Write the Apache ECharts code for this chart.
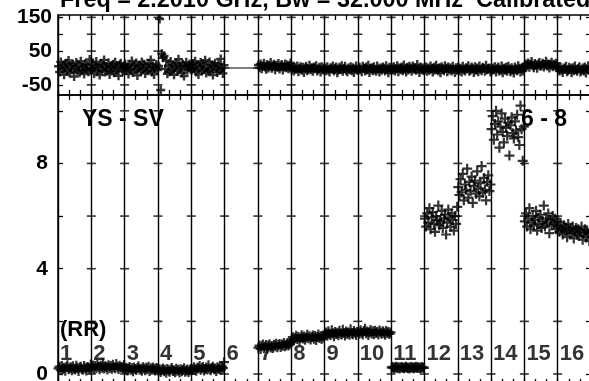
<!DOCTYPE html>
<html><head><meta charset="utf-8">
<script src="https://cdn.jsdelivr.net/npm/echarts@6/dist/echarts.min.js"></script>
<style>html,body{margin:0;padding:0;overflow:hidden;background:#fff}#c{width:592px;height:386px}</style>
</head><body><div id="c"></div>
<script>
// ---- tick / label values ----
const segmentLabels = ['1','2','3','4','5','6','7','8','9','10','11','12','13','14','15','16'];
const phaseTicks = [150, 100, 50, 0, -50];
const phaseLabels = [150, 50, -50];
const ampTicks = [10, 8, 6, 4, 2, 0];
const ampLabels = [8, 4, 0];

// ---- phase (degrees) per segment ----
const ph01 = [5,-12,18,-3,9,-20,2,14,-8,22,-15,6,-4,11,-25,0,16,-9,7,-14,20,-6,3,-18,12,-2,8,-11,25,-7];
const ph02 = [-4,10,-16,6,19,-9,1,-21,13,-5,8,24,-12,3,-7,15,-19,5,-1,11,-14,17,-8,2,-23,9,14,-3,-10,6];
const ph03 = [12,-7,3,-18,9,-2,21,-13,6,-5,15,-22,0,8,-10,18,-4,11,-16,4,-8,13,-1,24,-12,7,-19,2,10,-6];
const ph04 = [6,145,-65,42,30,36,-3,22,-17,6,-11,19,-5,9,-20,3,14,-9,26,-2,7,-15,11,-24,5,17,-7,1,12,-4];
const ph05 = [-6,13,-1,20,-12,7,-19,4,16,-8,10,-3,23,-15,2,-10,18,-5,9,-21,6,14,-2,-13,11,-7,27,0,-16,8];
const ph07 = [9,1,12,-2,6,14,3,-4,10,0,7,16,-1,5,11,-5,8,2,13,-3,6,10,-6,4,12,1,9,-2,7,15];
const ph08 = [-6,3,-9,1,-4,6,-11,-1,4,-7,2,-13,0,5,-8,-3,8,-5,1,-10,3,-2,7,-9,-4,2,-12,4,-6,0];
const ph09 = [0,-8,4,-5,-12,1,-3,6,-9,-1,3,-14,-6,2,-4,7,-10,-2,5,-7,-11,0,-5,4,-8,1,-13,-3,6,-6];
const ph10 = [-7,2,-4,-11,5,-1,-9,3,-6,8,-13,-2,1,-8,4,-5,-10,6,-3,-12,0,-7,3,-1,-9,7,-4,-14,2,-6];
const ph11 = [1,-6,4,-9,-2,7,-11,0,-5,3,-8,9,-3,-12,2,-6,5,-1,-10,6,-4,1,-7,10,-2,-13,3,-5,0,-8];
const ph12 = [-5,3,-10,0,-7,6,-2,-12,2,-6,8,-4,-9,1,-14,4,-3,-8,7,-1,-11,3,-6,0,-9,5,-4,-13,1,-7];
const ph13 = [2,-8,-1,-12,5,-5,-9,1,-3,7,-10,-6,3,-2,-13,4,-7,0,-11,6,-4,-8,2,-1,-10,8,-5,-3,0,-12];
const ph14 = [-8,0,-5,4,-12,-2,3,-9,-6,6,-14,-1,-7,2,-10,5,-3,-11,1,-6,-15,3,-4,-8,7,-2,-12,0,-9,4];
const ph15 = [4,12,6,15,2,10,19,7,1,13,9,-1,11,16,5,8,14,3,10,20,6,12,0,9,17,4,11,7,14,2];
const ph16 = [-1,-9,3,-6,-13,0,-4,5,-11,-7,2,-3,-14,1,-8,6,-5,-10,-2,4,-12,-6,0,-9,3,-15,-4,7,-7,-1];

// ---- amplitude per segment ----
const amp01 = [0.21,0.28,0.15,0.3,0.19,0.24,0.12,0.27,0.33,0.18,0.22,0.26,0.14,0.29,0.2,0.17,0.31,0.23,0.11,0.25,0.28,0.19,0.16,0.3,0.22,0.13,0.27,0.24,0.18,0.36];
const amp02 = [0.25,0.32,0.19,0.3,0.22,0.36,0.27,0.18,0.31,0.24,0.4,0.21,0.29,0.26,0.17,0.33,0.23,0.3,0.2,0.35,0.26,0.22,0.38,0.28,0.19,0.31,0.24,0.27,0.21,0.34];
const amp03 = [0.18,0.24,0.13,0.21,0.27,0.16,0.22,0.1,0.25,0.19,0.15,0.23,0.29,0.17,0.2,0.12,0.26,0.21,0.14,0.24,0.18,0.28,0.11,0.22,0.16,0.25,0.19,0.13,0.23,0.2];
const amp04 = [0.12,0.18,0.08,0.15,0.21,0.1,0.16,0.05,0.19,0.13,0.09,0.17,0.23,0.11,0.14,0.07,0.2,0.12,0.16,0.06,0.18,0.1,0.15,0.22,0.09,0.13,0.17,0.08,0.14,0.19];
const amp05 = [0.2,0.15,0.26,0.18,0.12,0.24,0.21,0.3,0.16,0.22,0.27,0.13,0.19,0.25,0.17,0.33,0.2,0.14,0.23,0.28,0.18,0.21,0.11,0.26,0.19,0.24,0.15,0.29,0.22,0.45];
const amp07 = [1.0,1.08,0.95,1.05,1.12,0.98,1.04,1.1,0.97,1.07,1.13,1.01,1.06,0.99,1.11,1.05,1.15,1.02,1.09,1.14,1.03,1.12,1.07,1.18,1.05,1.1,1.16,1.08,1.13,1.2];
const amp08 = [1.32,1.4,1.28,1.37,1.45,1.33,1.41,1.26,1.38,1.47,1.35,1.42,1.3,1.39,1.49,1.36,1.43,1.31,1.4,1.46,1.34,1.44,1.29,1.41,1.5,1.37,1.43,1.33,1.45,1.39];
const amp09 = [1.5,1.58,1.45,1.62,1.53,1.48,1.66,1.55,1.43,1.6,1.52,1.57,1.47,1.64,1.54,1.5,1.68,1.56,1.46,1.61,1.53,1.58,1.49,1.7,1.55,1.51,1.63,1.57,1.48,1.6];
const amp10 = [1.6,1.53,1.66,1.57,1.5,1.63,1.72,1.55,1.61,1.48,1.59,1.67,1.54,1.62,1.51,1.64,1.56,1.6,1.5,1.65,1.58,1.53,1.62,1.57,1.49,1.63,1.55,1.6,1.52,1.58];
const amp11 = [0.24,0.27,0.22,0.25,0.28,0.23,0.26,0.21,0.25,0.27,0.24,0.22,0.26,0.28,0.23,0.25,0.21,0.27,0.24,0.26,0.22,0.25,0.28,0.23,0.26,0.24,0.21,0.27,0.25,0.23];
const amp12 = [5.9,5.6,6.1,5.75,6.3,5.5,5.95,6.15,5.7,5.4,6.0,5.85,6.4,5.65,5.8,6.2,5.55,5.9,6.05,5.3,5.75,6.25,5.95,5.6,6.1,5.85,5.45,6.0,5.7,6.35];
const amp13 = [7.1,6.8,7.4,6.9,7.6,6.6,7.2,7.0,7.8,6.7,7.3,6.95,7.5,6.5,7.15,7.35,6.85,7.7,7.05,6.75,7.25,7.9,6.9,7.45,7.0,6.6,7.3,7.55,6.95,7.2];
const amp14 = [9.3,9.8,8.9,9.5,10.0,9.1,9.6,8.6,9.4,9.9,9.2,8.8,9.7,9.35,9.05,9.55,8.3,9.45,9.75,9.15,8.95,9.6,9.25,9.85,9.0,8.7,10.2,9.3,8.1,9.4];
const amp15 = [5.8,6.1,5.6,5.9,6.3,5.5,5.75,6.0,5.65,5.85,6.2,5.45,5.95,5.7,6.05,5.55,5.8,6.4,5.6,5.9,5.75,6.1,5.35,5.85,5.65,6.0,5.7,5.9,5.5,5.8];
const amp16 = [5.6,5.4,5.75,5.5,5.3,5.65,5.45,5.55,5.2,5.7,5.4,5.5,5.35,5.6,5.15,5.45,5.55,5.3,5.5,5.25,5.4,5.6,5.1,5.35,5.5,5.2,5.45,5.3,5.05,5.4];

// flagged stretch in segment 6 (phase trace only)
const flagTimes = [5.1, 5.9];
const flagPhase = [0, 0];

// ---- build ----
const segments = [
  [1, ph01, amp01], [2, ph02, amp02], [3, ph03, amp03], [4, ph04, amp04], [5, ph05, amp05],
  [7, ph07, amp07], [8, ph08, amp08], [9, ph09, amp09], [10, ph10, amp10], [11, ph11, amp11],
  [12, ph12, amp12], [13, ph13, amp13], [14, ph14, amp14], [15, ph15, amp15], [16, ph16, amp16]
];
const phasePts = [], ampPts = [];
segments.forEach(([s, ph, am]) => {
  ph.forEach((v, i) => phasePts.push([s - 1 + (i + 0.5) / ph.length, v]));
  am.forEach((v, i) => ampPts.push([s - 1 + (i + 0.5) / am.length, v]));
});
const nSeg = segmentLabels.length;
const crossTop = [], crossBot = [];
for (let b = 1; b < nSeg; b++) {
  phaseTicks.forEach(v => crossTop.push([b, v]));
  ampTicks.forEach(v => crossBot.push([b, v]));
}
const flagPts = flagTimes.map((t, i) => [t, flagPhase[i]]);
const segLabelPts = segmentLabels.map((t, i) => ({ value: [i, 0.76], name: t }));

const FONT = '"Liberation Sans", Arial, Helvetica, sans-serif';
const BLACK = '#000';
const PLUS = 'path://M0,5L10,5M5,0L5,10';

function xAx(gridIndex, position, split) {
  return {
    type: 'value', gridIndex, position, min: 0, max: nSeg, interval: 1,
    axisLine: { show: true, onZero: false, lineStyle: { color: BLACK, width: 1.5 } },
    axisTick: { show: true, inside: true, length: 5, lineStyle: { color: BLACK, width: 1.3 } },
    minorTick: { show: true, splitNumber: 3, length: 5, lineStyle: { color: BLACK, width: 1.3 } },
    axisLabel: { show: false },
    splitLine: { show: split, lineStyle: { color: '#000', width: 1.4 } },
    minorSplitLine: { show: false }
  };
}
function yAx(gridIndex, position, min, max, ticks, labels, showLabel, margin) {
  return {
    type: 'value', gridIndex, position, min, max,
    axisLine: { show: true, onZero: false, lineStyle: { color: BLACK, width: 1.5 } },
    axisTick: { show: true, inside: true, length: 5, customValues: ticks, lineStyle: { color: BLACK, width: 1.3 } },
    axisLabel: { show: showLabel, customValues: labels, margin, color: BLACK, fontSize: 21,
      fontWeight: 'bold', fontFamily: FONT },
    splitLine: { show: false }
  };
}

const chart = echarts.init(document.getElementById('c'), null, { renderer: 'canvas' });
chart.setOption({
  animation: false,
  backgroundColor: '#fff',
  grid: [
    { left: 58, top: 15, width: 533, height: 80 },
    { left: 58, top: 95, width: 533, height: 289 }
  ],
  xAxis: [xAx(0, 'bottom', true), xAx(0, 'top', false), xAx(1, 'bottom', true), xAx(1, 'top', false)],
  yAxis: [
    yAx(0, 'left', -80, 157, phaseTicks, phaseLabels, true, 6),
    yAx(0, 'right', -80, 157, phaseTicks, phaseLabels, false, 6),
    yAx(1, 'left', -0.38, 10.6, ampTicks, ampLabels, true, 10),
    yAx(1, 'right', -0.38, 10.6, ampTicks, ampLabels, false, 10)
  ],
  series: [
    { type: 'scatter', xAxisIndex: 0, yAxisIndex: 0, data: crossTop, symbol: 'rect', symbolSize: [9, 1.6],
      itemStyle: { color: BLACK }, silent: true, z: 1 },
    { type: 'line', xAxisIndex: 0, yAxisIndex: 0, data: flagPts, symbol: 'none',
      lineStyle: { color: BLACK, width: 1.2 }, silent: true, z: 2 },
    { type: 'scatter', xAxisIndex: 0, yAxisIndex: 0, data: phasePts, symbol: PLUS, symbolSize: 9,
      itemStyle: { color: BLACK, borderColor: BLACK, borderWidth: 2.4 }, silent: true, z: 3 },
    { type: 'scatter', xAxisIndex: 2, yAxisIndex: 2, data: crossBot, symbol: 'rect', symbolSize: [9, 1.6],
      itemStyle: { color: BLACK }, silent: true, z: 1 },
    { type: 'scatter', xAxisIndex: 2, yAxisIndex: 2, data: ampPts, symbol: PLUS, symbolSize: 10,
      itemStyle: { color: BLACK, borderColor: BLACK, borderWidth: 2.2 }, silent: true, z: 3 },
    { type: 'scatter', xAxisIndex: 2, yAxisIndex: 2, data: segLabelPts, symbolSize: 0, silent: true, z: 4,
      label: { show: true, position: 'right', distance: 2, formatter: '{b}', color: BLACK,
        fontSize: 22, fontWeight: 'bold', fontFamily: FONT } }
  ],
  graphic: [
    { type: 'text', z: 10, style: { text: 'Freq = 2.2010 GHz, Bw = 32.000 MHz  Calibrated', x: 60, y: 1,
      textVerticalAlign: 'middle', font: 'bold 23.4px ' + FONT, fill: BLACK } },
    { type: 'text', z: 10, style: { text: 'YS - SV', x: 82, y: 120,
      textVerticalAlign: 'middle', font: 'bold 23px ' + FONT, fill: BLACK } },
    { type: 'text', z: 10, style: { text: '6 - 8', x: 567, y: 120, textAlign: 'right',
      textVerticalAlign: 'middle', font: 'bold 23px ' + FONT, fill: BLACK } },
    { type: 'text', z: 10, style: { text: '(RR)', x: 60, y: 330,
      textVerticalAlign: 'middle', font: 'bold 22px ' + FONT, fill: BLACK } }
  ]
});
</script></body></html>
